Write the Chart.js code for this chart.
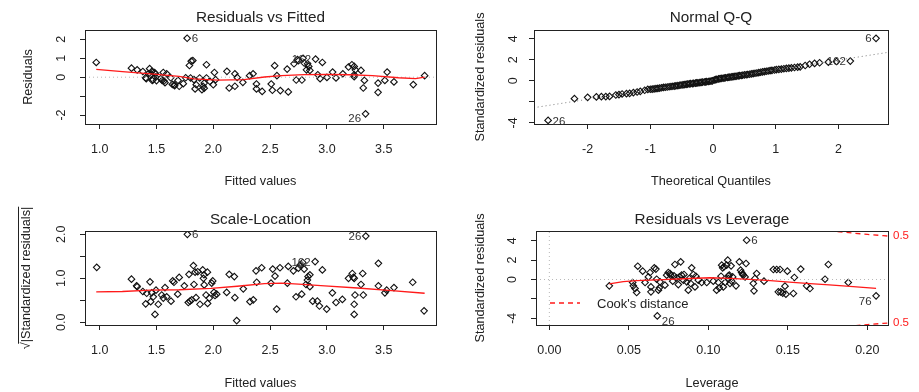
<!DOCTYPE html>
<html>
<head>
<meta charset="utf-8">
<title>lm diagnostics</title>
<script src="https://cdn.jsdelivr.net/npm/chart.js"></script>
<style>
  body { margin: 0; background: #fff; }
  #wrap { position: relative; width: 919px; height: 392px; }
  #wrap canvas { position: absolute; }
</style>
</head>
<body>
<div id="wrap">
  <canvas id="rvf" width="459" height="196" style="left:0;top:0"></canvas>
  <canvas id="qq" width="460" height="196" style="left:459px;top:0"></canvas>
  <canvas id="sl" width="459" height="196" style="left:0;top:196px"></canvas>
  <canvas id="rvl" width="460" height="196" style="left:459px;top:196px"></canvas>
</div>
<script>
  // ---- residuals vs fitted ----
  const fitted = [0.97,1.28,1.33,1.38,1.41,1.405,1.43,1.44,1.449,1.46,1.463,1.47,1.484,1.49,1.49,1.50,1.537,1.55,1.56,1.566,
    1.575,1.59,1.625,1.64,1.656,1.66,1.69,1.70,1.736,1.757,1.77,1.79,1.80,1.806,1.82,1.83,1.84,1.85,1.88,1.90,
    1.91,1.92,1.92,1.94,1.94,1.97,2.00,2.01,2.02,2.12,2.14,2.19,2.19,2.21,2.26,2.32,2.35,2.38,2.38,2.43,
    2.51,2.52,2.54,2.56,2.59,2.65,2.66,2.71,2.73,2.74,2.75,2.78,2.79,2.80,2.82,2.83,2.84,2.85,2.90,2.92,
    2.94,2.96,3.00,3.05,3.08,3.14,3.19,3.22,3.24,3.24,3.24,3.25,3.30,3.32,3.33,3.34,3.45,3.45,3.51,3.53,
    3.59,3.76,3.86];
  const resid = [0.78,0.48,0.39,0.30,-0.08,-0.03,0.18,0.45,0.15,0.31,-0.17,-0.13,0.24,0.18,0.01,-0.18,-0.08,-0.17,0.25,-0.20,
    -0.29,0.18,-0.03,-0.38,-0.41,-0.45,-0.17,-0.48,-0.34,-0.03,2.06,0.62,-0.04,0.85,0.88,-0.13,-0.62,-0.40,-0.04,-0.66,
    -0.48,-0.31,-0.58,0.66,-0.04,-0.22,-0.40,0.25,-0.13,0.31,-0.57,-0.48,0.18,-0.01,-0.27,0.08,0.18,-0.36,-0.62,-0.75,
    -0.36,-0.69,0.61,0.08,-0.71,0.43,-0.78,0.71,-0.15,0.93,0.88,-0.15,1.00,0.75,0.39,0.71,0.57,0.36,0.96,0.13,
    -0.08,0.78,-0.01,0.27,-0.04,0.18,0.54,0.66,0.57,0.13,0.03,0.39,0.36,-0.57,-0.17,-1.94,-0.80,-0.31,-0.17,0.27,
    -0.25,-0.39,0.08];
  const fitSmoothX = [0.97,1.20,1.45,1.70,1.83,2.04,2.27,2.45,2.60,2.80,3.00,3.20,3.40,3.63,3.78,3.86];
  const fitSmoothY = [0.41,0.30,0.18,0.04,-0.09,-0.16,-0.13,0.01,0.08,0.14,0.15,0.13,0.08,-0.03,-0.08,0.00];

  // ---- normal Q-Q ----
  const qqTheo = [-2.63,-2.21,-2.00,-1.86,-1.78,-1.71,-1.65,-1.55,-1.50,-1.45,-1.38,-1.33,-1.27,-1.21,-1.16,-1.09,-1.04,
    -1.00,-0.97,-0.94,-0.91,-0.88,-0.85,-0.82,-0.79,-0.76,-0.73,-0.70,-0.67,-0.64,-0.61,-0.59,-0.56,-0.53,-0.51,-0.48,-0.46,
    -0.43,-0.41,-0.38,-0.36,-0.33,-0.31,-0.28,-0.26,-0.24,-0.21,-0.19,-0.17,-0.14,-0.12,-0.10,-0.07,-0.05,-0.03,-0.01,
    0.02,0.04,0.06,0.09,0.11,0.13,0.16,0.18,0.20,0.23,0.25,0.27,0.30,0.32,0.35,0.37,0.40,0.42,0.45,0.47,
    0.50,0.53,0.55,0.58,0.61,0.64,0.67,0.70,0.73,0.76,0.79,0.82,0.85,0.88,0.91,0.94,0.98,1.01,1.05,1.09,
    1.13,1.17,1.21,1.25,1.30,1.35,1.39,1.47,1.54,1.62,1.70,1.84,1.97,2.19,2.60];
  const qqStd = [-3.77,-1.70,-1.57,-1.53,-1.51,-1.50,-1.48,-1.35,-1.31,-1.25,-1.22,-1.19,-1.12,-1.06,-1.00,-0.90,-0.82,
    -0.80,-0.79,-0.77,-0.74,-0.72,-0.69,-0.66,-0.63,-0.61,-0.59,-0.56,-0.54,-0.52,-0.50,-0.47,-0.45,-0.42,-0.40,-0.38,-0.36,
    -0.34,-0.31,-0.29,-0.27,-0.26,-0.24,-0.22,-0.20,-0.19,-0.17,-0.15,-0.13,-0.11,-0.10,-0.08,-0.06,-0.04,-0.02,0.00,
    0.08,0.12,0.14,0.18,0.20,0.23,0.25,0.27,0.29,0.32,0.34,0.36,0.38,0.40,0.42,0.44,0.47,0.49,0.51,0.53,
    0.56,0.58,0.60,0.63,0.66,0.69,0.72,0.75,0.78,0.82,0.85,0.88,0.91,0.94,0.97,0.99,1.03,1.06,1.09,1.12,
    1.15,1.18,1.21,1.24,1.27,1.30,1.33,1.46,1.58,1.66,1.72,1.78,1.84,1.88,4.05];
  const qqLineX = [-2.86, 2.80];
  const qqLineY = [-2.56, 2.72];

  // ---- scale-location ----
  const slFitted = [0.974,1.28,1.325,1.33,1.38,1.405,1.414,1.443,1.449,1.458,1.472,1.487,1.496,1.516,1.546,1.56,1.575,1.59,1.628,1.643,
    1.654,1.687,1.70,1.745,1.772,1.78,1.786,1.795,1.81,1.825,1.83,1.84,1.848,1.863,1.883,1.907,1.913,1.918,1.92,1.936,
    1.948,1.95,1.965,1.986,1.995,2.006,2.015,2.03,2.118,2.14,2.185,2.19,2.206,2.264,2.323,2.352,2.376,2.382,2.426,2.508,
    2.523,2.543,2.558,2.587,2.652,2.66,2.705,2.728,2.749,2.764,2.778,2.787,2.80,2.816,2.828,2.834,2.85,2.85,2.875,2.896,
    2.916,2.934,2.96,2.998,3.048,3.08,3.136,3.19,3.224,3.233,3.24,3.24,3.24,3.247,3.30,3.315,3.32,3.342,3.453,3.453,
    3.51,3.526,3.59,3.755,3.855];
  const slRoot = [1.25,0.98,0.83,0.81,0.70,0.42,0.66,0.92,0.47,0.67,0.58,0.18,0.73,0.41,0.62,0.55,0.79,0.58,0.48,0.94,
    0.91,0.64,1.02,0.83,2.00,0.45,1.09,0.48,0.51,1.29,0.86,1.14,0.56,1.15,0.41,1.19,1.00,1.08,0.85,0.62,
    1.14,0.43,0.55,0.89,0.94,0.68,0.61,0.64,0.68,1.09,1.04,0.56,0.04,0.76,0.47,0.51,1.17,0.91,1.24,0.89,
    1.21,1.05,0.30,1.24,0.89,1.27,1.17,0.58,1.23,1.30,0.64,1.36,1.21,0.86,0.96,1.04,1.08,0.81,0.48,1.38,
    0.48,0.37,1.19,0.30,0.67,0.45,0.52,1.00,1.11,1.02,1.00,0.41,0.18,0.62,0.86,1.11,0.62,1.96,1.34,0.83,
    0.67,0.73,0.79,0.91,0.26];
  const slSmoothX = [0.97,1.20,1.45,1.70,1.98,2.21,2.45,2.60,2.75,2.98,3.27,3.57,3.86];
  const slSmoothY = [0.69,0.70,0.73,0.74,0.77,0.82,0.88,0.89,0.87,0.83,0.78,0.72,0.66];

  // ---- residuals vs leverage ----
  const leverage = [0.0377,0.0524,0.0528,0.0539,0.0549,0.0556,0.0587,0.0602,0.0623,0.0633,0.0639,0.0639,0.066,0.067,0.0675,0.0679,0.0686,0.0692,0.0696,0.0727,
    0.0738,0.0748,0.0759,0.0763,0.0776,0.0784,0.079,0.080,0.0811,0.0818,0.0826,0.0832,0.0843,0.0847,0.0864,0.0874,0.088,0.0889,0.0895,0.0906,
    0.0916,0.0922,0.0937,0.0958,0.099,0.1031,0.1052,0.1063,0.1069,0.108,0.1084,0.109,0.1094,0.1099,0.1105,0.1115,0.1122,0.1126,0.1126,0.1132,
    0.1136,0.1143,0.1147,0.1153,0.1174,0.1195,0.1203,0.1209,0.1216,0.122,0.1231,0.1237,0.1241,0.1283,0.1287,0.1293,0.1304,0.135,0.1409,0.143,
    0.144,0.1451,0.1455,0.1468,0.1482,0.1488,0.1497,0.1535,0.1541,0.1581,0.1618,0.1639,0.1734,0.1755,0.188,0.2055];
  const levStd = [-0.65,-0.31,-0.65,-0.93,-1.34,1.37,0.86,-0.31,0.27,0.72,-0.76,-1.27,1.20,1.07,0.03,-3.75,-1.10,-0.86,-0.24,-0.58,
    0.45,0.72,0.62,0.45,-0.17,0.38,1.55,0.17,-0.52,0.27,1.82,0.45,-0.07,0.52,-0.24,-1.10,0.10,-0.41,1.20,0.52,
    -0.76,0.34,-0.07,-0.31,-0.31,-0.17,-1.10,-0.31,-0.86,0.34,1.48,1.20,-0.76,1.31,-0.31,1.48,1.99,0.10,0.38,0.45,
    -0.41,1.41,-0.17,0.27,-0.65,1.82,0.96,0.72,0.55,0.45,0.27,1.65,4.05,-0.41,-1.17,0.10,0.62,-0.17,1.03,1.03,
    -1.27,1.03,-1.27,-1.40,-0.69,-1.51,0.86,-1.44,0.21,1.07,-0.65,-0.93,0.03,1.55,-0.31,-1.68];
  const levSmoothX = [0.0377,0.0465,0.055,0.0717,0.0843,0.101,0.1136,0.126,0.139,0.151,0.164,0.176,0.189,0.2055];
  const levSmoothY = [-0.45,-0.22,-0.12,-0.01,0.08,0.18,0.12,0.02,-0.12,-0.26,-0.42,-0.56,-0.70,-0.92];
  const cookH = [0.17,0.18,0.19,0.20,0.21,0.22];
  const cookUpper = [5.16,4.97,4.80,4.65,4.52,4.39];
  const cookLower = [-5.16,-4.97,-4.80,-4.65,-4.52,-4.39];
  const cookTickAt = [4.47, -4.47];
  const cookTickText = '0.5';

  // tick values
  const fittedTicks = [1.0,1.5,2.0,2.5,3.0,3.5];
  const residTicks = [-2,-1,0,1,2];
  const qqXTicks = [-2,-1,0,1,2];
  const stdTicks = [-4,-2,0,2,4];
  const rootTicks = [0,0.5,1.0,1.5,2.0];
  const levTicks = [0,0.05,0.10,0.15,0.20];

  const INK = '#222';
  const FONT = '"Liberation Sans", Arial, sans-serif';

  function pts(xs, ys) { return xs.map((x, i) => ({ x: x, y: ys[i] })); }

  function xAxis(o) {
    return {
      type: 'linear', position: 'bottom', bounds: 'data', min: o.min, max: o.max,
      afterBuildTicks: s => { s.ticks = o.ticks.map(v => ({ value: v })); },
      afterFit: s => { s.height = o.height; },
      grid: { drawOnChartArea: false, drawTicks: true, tickLength: 5, tickColor: INK, color: INK },
      border: { display: false },
      ticks: { color: INK, font: { family: FONT, size: 12.5 }, padding: 13.5, autoSkip: false,
               maxRotation: 0, callback: o.fmt },
      title: { display: true, text: o.title, color: INK, font: { family: FONT, size: 12.7 },
               padding: { top: 0, bottom: o.titlePad } }
    };
  }

  function yAxis(o) {
    return {
      type: 'linear', position: 'left', bounds: 'data', min: o.min, max: o.max,
      afterBuildTicks: s => { s.ticks = o.ticks.map(v => ({ value: v })); },
      afterFit: s => { s.width = o.width; },
      grid: { drawOnChartArea: false, drawTicks: true, tickLength: 5, tickColor: INK, color: INK },
      border: { display: false },
      ticks: { color: INK, font: { family: FONT, size: 12.5 }, padding: o.tickPad, autoSkip: false,
               minRotation: 90, maxRotation: 90, crossAlign: 'center', callback: o.fmt },
      title: { display: true, text: o.title, color: INK, font: { family: FONT, size: 12.7 },
               padding: { top: o.titlePad, bottom: 0 } }
    };
  }

  function points(data) {
    return { data: data, showLine: false, pointStyle: 'rectRot', pointRadius: 3.3,
             pointBorderWidth: 1.1, pointBorderColor: '#111', pointBackgroundColor: 'rgba(0,0,0,0)' };
  }
  function curve(data, color, width, dash) {
    return { data: data, showLine: true, pointRadius: 0, borderColor: color, borderWidth: width,
             borderDash: dash || [], fill: false, tension: 0 };
  }

  // frame, panel title and id labels
  function decor(spec) {
    return {
      id: 'decor',
      afterDraw(chart) {
        const { ctx, chartArea: a, scales: { x, y } } = chart;
        ctx.save();
        ctx.strokeStyle = INK;
        ctx.lineWidth = 1;
        ctx.strokeRect(a.left + 0.5, a.top + 0.5, a.right - a.left, a.bottom - a.top);

        ctx.fillStyle = INK;
        ctx.font = '15.3px ' + FONT;
        ctx.textAlign = 'center';
        ctx.textBaseline = 'middle';
        ctx.fillText(spec.title, (a.left + a.right) / 2, spec.titleY);

        ctx.font = '11.5px ' + FONT;
        ctx.fillStyle = '#333';
        spec.ids.forEach(l => {
          const px = x.getPixelForValue(l.x), py = y.getPixelForValue(l.y);
          const left = l.side === 'left';
          ctx.textAlign = left ? 'right' : 'left';
          ctx.fillText(l.text, px + (left ? -4.5 : 4.5), py + (l.dy || 1));
        });
        if (spec.extra) spec.extra(chart, ctx);
        ctx.restore();
      }
    };
  }

  function baseOptions(pad, scales) {
    return {
      responsive: false, animation: false, devicePixelRatio: 1, events: [],
      layout: { padding: pad },
      plugins: { legend: { display: false }, tooltip: { enabled: false } },
      scales: scales
    };
  }

  const hideNeg = (n) => v => (v === n ? '' : String(v));

  // Residuals vs Fitted
  const rvfX = [0.871, 3.960];
  new Chart(document.getElementById('rvf'), {
    type: 'scatter',
    data: { datasets: [
      curve(pts(fitSmoothX, fitSmoothY), '#ff1a1a', 1.3),
      curve(pts(rvfX, [0, 0]), '#b8b8b8', 1, [1, 3]),
      points(pts(fitted, resid))
    ] },
    options: baseOptions({ top: 30, right: 23, left: 0, bottom: 0 }, {
      x: xAxis({ min: rvfX[0], max: rvfX[1], ticks: fittedTicks, height: 72, title: 'Fitted values',
                 titlePad: 6.7, fmt: v => v.toFixed(1) }),
      y: yAxis({ min: -2.476, max: 2.497, ticks: residTicks, width: 85, tickPad: 12.4, title: 'Residuals',
                 titlePad: 20.7, fmt: hideNeg(-1) })
    }),
    plugins: [decor({ title: 'Residuals vs Fitted', titleY: 18, ids: [
      { x: 1.77, y: 2.06, text: '6', side: 'right' },
      { x: 2.90, y: 0.96, text: '162', side: 'left' },
      { x: 3.34, y: -1.94, text: '26', side: 'left', dy: 5 }
    ] })]
  });

  // Normal Q-Q
  new Chart(document.getElementById('qq'), {
    type: 'scatter',
    data: { datasets: [
      curve(pts(qqLineX, qqLineY), '#7a7a7a', 1, [1, 3]),
      points(pts(qqTheo, qqStd))
    ] },
    options: baseOptions({ top: 30, right: 31, left: 0, bottom: 0 }, {
      x: xAxis({ min: -2.855, max: 2.791, ticks: qqXTicks, height: 72, title: 'Theoretical Quantiles',
                 titlePad: 6.7, fmt: v => String(v) }),
      y: yAxis({ min: -4.11, max: 4.84, ticks: stdTicks, width: 75, tickPad: 9.4, title: 'Standardized residuals',
                 titlePad: 13.4, fmt: hideNeg(-2) })
    }),
    plugins: [decor({ title: 'Normal Q-Q', titleY: 18, ids: [
      { x: -2.63, y: -3.77, text: '26', side: 'right' },
      { x: 2.19, y: 1.88, text: '162', side: 'left' },
      { x: 2.60, y: 4.05, text: '6', side: 'left' }
    ] })]
  });

  // Scale-Location
  const slTitle = '\u221A|Standardized residuals|';
  new Chart(document.getElementById('sl'), {
    type: 'scatter',
    data: { datasets: [
      curve(pts(slSmoothX, slSmoothY), '#ff1a1a', 1.3),
      points(pts(slFitted, slRoot))
    ] },
    options: baseOptions({ top: 35, right: 23, left: 0, bottom: 0 }, {
      x: xAxis({ min: rvfX[0], max: rvfX[1], ticks: fittedTicks, height: 67, title: 'Fitted values',
                 titlePad: 1.1, fmt: v => v.toFixed(1) }),
      y: yAxis({ min: -0.061, max: 2.075, ticks: rootTicks, width: 85, tickPad: 9.3, title: slTitle,
                 titlePad: 19.1, fmt: v => (v === 0.5 || v === 1.5 ? '' : v.toFixed(1)) })
    }),
    plugins: [decor({ title: 'Scale-Location', titleY: 24, ids: [
      { x: 1.772, y: 2.00, text: '6', side: 'right' },
      { x: 3.342, y: 1.96, text: '26', side: 'left' },
      { x: 2.896, y: 1.38, text: '162', side: 'left' }
    ], extra: (chart, ctx) => {
      // radical bar over the rotated axis title
      const a = chart.chartArea, f = 12.7;
      ctx.font = f + 'px ' + FONT;
      const w = ctx.measureText(slTitle).width, wr = ctx.measureText('\u221A').width;
      const cx = chart.scales.y.left + f * 0.6 + 19.1, cy = (a.top + a.bottom) / 2;
      const bx = Math.round(cx - f * 0.66) + 0.5;
      ctx.strokeStyle = INK;
      ctx.beginPath();
      ctx.moveTo(bx, cy + w / 2 - wr * 0.8);
      ctx.lineTo(bx, cy - w / 2);
      ctx.stroke();
    } })]
  });

  // Residuals vs Leverage
  const levX = [-0.0084, 0.2130];
  const levY = [-4.69, 5.0];
  new Chart(document.getElementById('rvl'), {
    type: 'scatter',
    data: { datasets: [
      curve(pts(levSmoothX, levSmoothY), '#ff1a1a', 1.3),
      curve(pts(cookH, cookUpper), '#ff1a1a', 1.3, [5, 4]),
      curve(pts(cookH, cookLower), '#ff1a1a', 1.3, [5, 4]),
      curve(pts(levX, [0, 0]), '#b8b8b8', 1, [1, 3]),
      curve(pts([0, 0], levY), '#b8b8b8', 1, [1, 3]),
      points(pts(leverage, levStd))
    ] },
    options: baseOptions({ top: 35, right: 31, left: 0, bottom: 0 }, {
      x: xAxis({ min: levX[0], max: levX[1], ticks: levTicks, height: 67, title: 'Leverage',
                 titlePad: 1.1, fmt: v => v.toFixed(2) }),
      y: yAxis({ min: levY[0], max: levY[1], ticks: stdTicks, width: 77, tickPad: 12.4, title: 'Standardized residuals',
                 titlePad: 13.4, fmt: hideNeg(-2) })
    }),
    plugins: [decor({ title: 'Residuals vs Leverage', titleY: 24, ids: [
      { x: 0.1241, y: 4.05, text: '6', side: 'right' },
      { x: 0.0679, y: -3.75, text: '26', side: 'right', dy: 6 },
      { x: 0.2055, y: -1.68, text: '76', side: 'left', dy: 6 }
    ], extra: (chart, ctx) => {
      const a = chart.chartArea, yS = chart.scales.y;
      // legend
      ctx.strokeStyle = '#ff1a1a';
      ctx.lineWidth = 1.3;
      ctx.setLineDash([5, 4]);
      ctx.beginPath();
      ctx.moveTo(a.left + 14, a.top + 72);
      ctx.lineTo(a.left + 44, a.top + 72);
      ctx.stroke();
      ctx.setLineDash([]);
      ctx.fillStyle = INK;
      ctx.font = '13px ' + FONT;
      ctx.textAlign = 'left';
      ctx.textBaseline = 'middle';
      ctx.fillText("Cook's distance", a.left + 61, a.top + 73);
      // contour level labels on the right side
      ctx.fillStyle = '#ff1a1a';
      ctx.font = '11.5px ' + FONT;
      cookTickAt.forEach(v => ctx.fillText(cookTickText, a.right + 5, yS.getPixelForValue(v)));
    } })]
  });
</script>
</body>
</html>
